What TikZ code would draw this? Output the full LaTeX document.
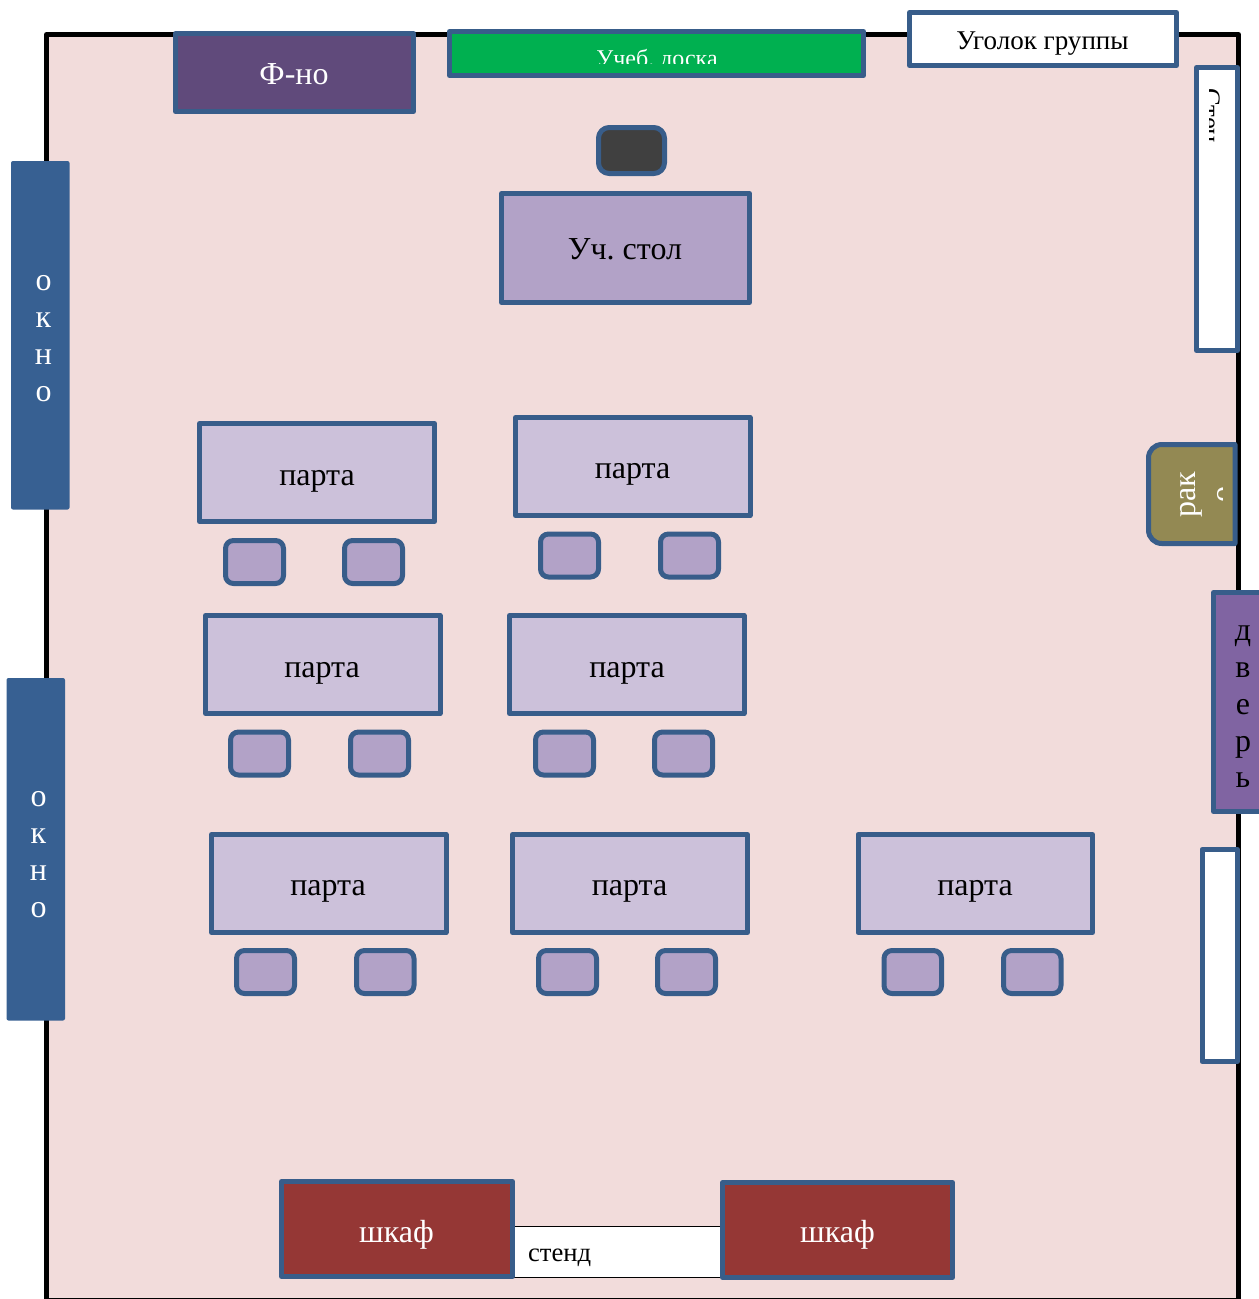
\documentclass[tikz,border=0pt]{standalone}
\usepackage{fontspec}
\setmainfont{Liberation Serif}
\frenchspacing
\definecolor{RoomFill}{HTML}{F2DCDB}
\definecolor{LineBlue}{HTML}{385D8A}
\definecolor{WindowFill}{HTML}{376092}
\definecolor{PianoFill}{HTML}{604A7B}
\definecolor{BoardFill}{HTML}{00B050}
\definecolor{StoolFill}{HTML}{404040}
\definecolor{TableFill}{HTML}{B2A2C7}
\definecolor{DeskFill}{HTML}{CCC1DA}
\definecolor{SinkFill}{HTML}{938953}
\definecolor{DoorFill}{HTML}{8064A2}
\definecolor{CupboardFill}{HTML}{953735}
\begin{document}
\begin{tikzpicture}[x=0.75pt, y=-0.75pt]
\useasboundingbox (0, 0) rectangle (1259, 1299);

\draw[black, line width=3.75pt, line join=round, fill=RoomFill] (46.5, 34.5) rectangle (1238.5, 1300);

\tikzset{BoxStyle/.style = {draw=LineBlue, line width=3.75pt, line join=round} }
\tikzset{ChairStyle/.style = {BoxStyle, fill=TableFill, rounded corners=6pt} }
\tikzset{DeskStyle/.style = {BoxStyle, fill=DeskFill} }
\tikzset{WindowStyle/.style = {fill=WindowFill, rounded corners=1.5pt} }
\tikzset{LabelStyle/.style = {inner sep=0pt, outer sep=0pt, font=\fontsize{24}{27.6}\selectfont} }
\tikzset{SmallLabelStyle/.style = {inner sep=0pt, outer sep=0pt, font=\fontsize{20}{24}\selectfont} }

\draw[BoxStyle, fill=PianoFill] (175.5, 33.5) rectangle (413.5, 111.5);
\node[LabelStyle, text=white, anchor=base] (Piano) at (294, 84) {Ф-но};

\draw[BoxStyle, fill=BoardFill] (449.5, 31.5) rectangle (863.5, 75.5);
\begin{scope}
\clip (452, 34) rectangle (861, 63);
\node[inner sep=0pt, text=white, font=\fontsize{18}{21}\selectfont, anchor=base] (Board) at (657, 66) {Учеб. доска};
\end{scope}

\draw[BoxStyle, fill=white] (909.5, 12.5) rectangle (1176.5, 65.5);
\node[inner sep=0pt, font=\fontsize{20.3}{24}\selectfont, anchor=base] (Corner) at (1042.5, 49) {Уголок группы};

\draw[BoxStyle, fill=white] (1196.5, 67.5) rectangle (1237.5, 350.5);
\begin{scope}
\clip (1209, 70) rectangle (1235, 348);
\node[SmallLabelStyle, rotate=-90, anchor=base west] (Stand1) at (1202, 88) {Стен};
\end{scope}

\draw[BoxStyle, fill=StoolFill, rounded corners=8pt] (598.5, 127.5) rectangle (664.5, 173.5);
\draw[BoxStyle, fill=TableFill] (501.5, 193.5) rectangle (749.5, 302.5);
\node[LabelStyle, anchor=base] (Table) at (625, 259) {Уч. стол};

\draw[DeskStyle] (199.5, 423.5) rectangle (434.5, 521.5);
\node[LabelStyle, anchor=base] (Desk1) at (317, 485) {парта};
\draw[DeskStyle] (515.5, 417.5) rectangle (750, 515.5);
\node[LabelStyle, anchor=base] (Desk2) at (632.5, 478.5) {парта};
\draw[DeskStyle] (205.5, 615.5) rectangle (440, 713.5);
\node[LabelStyle, anchor=base] (Desk3) at (322, 677) {парта};
\draw[DeskStyle] (509.5, 615.5) rectangle (744, 713.5);
\node[LabelStyle, anchor=base] (Desk4) at (627, 677) {парта};
\draw[DeskStyle] (211.5, 834.5) rectangle (446, 932.5);
\node[LabelStyle, anchor=base] (Desk5) at (328, 895) {парта};
\draw[DeskStyle] (512.5, 834.5) rectangle (747.5, 932.5);
\node[LabelStyle, anchor=base] (Desk6) at (629.5, 895) {парта};
\draw[DeskStyle] (858, 834.5) rectangle (1092.5, 932.5);
\node[LabelStyle, anchor=base] (Desk7) at (975, 895) {парта};

\draw[ChairStyle] (225.5, 540.5) rectangle (283.5, 583.5);
\draw[ChairStyle] (344.5, 540.5) rectangle (402.5, 583.5);
\draw[ChairStyle] (540.5, 534) rectangle (598.5, 577);
\draw[ChairStyle] (660.5, 534) rectangle (718.5, 577);
\draw[ChairStyle] (230.5, 732) rectangle (288.5, 775);
\draw[ChairStyle] (350.5, 732) rectangle (408.5, 775);
\draw[ChairStyle] (535.5, 732) rectangle (593.5, 775);
\draw[ChairStyle] (654.5, 732) rectangle (712.5, 775);
\draw[ChairStyle] (236.5, 950.5) rectangle (294.5, 993.5);
\draw[ChairStyle] (356.5, 950.5) rectangle (414, 993.5);
\draw[ChairStyle] (538.5, 950.5) rectangle (596.5, 993.5);
\draw[ChairStyle] (657.5, 950.5) rectangle (715.5, 993.5);
\draw[ChairStyle] (884, 950.5) rectangle (941.5, 993.5);
\draw[ChairStyle] (1003.5, 950.5) rectangle (1061, 993.5);

\fill[WindowStyle] (11, 161) rectangle (69.5, 509.5);
\node[LabelStyle, text=white, align=center, font=\fontsize{24}{27.75}\selectfont] (Window1) at (43.5, 339) {о\\к\\н\\о};
\fill[WindowStyle] (6.5, 678) rectangle (65, 1020.5);
\node[LabelStyle, text=white, align=center, font=\fontsize{24}{27.75}\selectfont] (Window2) at (38.5, 854.5) {о\\к\\н\\о};

\draw[BoxStyle, fill=SinkFill] (1235, 444.5) [rounded corners=10pt] -- (1148.5, 444.5) -- (1148.5, 543.5) [sharp corners] -- (1235, 543.5) -- cycle;
\node[LabelStyle, text=white, rotate=90, anchor=base] (Sink) at (1195, 494.5) {рак};
\begin{scope}
\clip (1200, 450) rectangle (1222, 540);
\node[LabelStyle, text=white, rotate=90, anchor=base] (Sink2) at (1232, 494) {о};
\end{scope}

\draw[BoxStyle, fill=DoorFill] (1213.5, 592.5) rectangle (1265, 811.5);
\node[LabelStyle, align=center] (Door) at (1243, 707) {д\\в\\е\\р\\ь};

\draw[BoxStyle, fill=white] (1202, 849.5) rectangle (1237.5, 1061.5);

\draw[black, fill=white, line width=0.9pt] (500, 1226.5) rectangle (735, 1277.5);
\node[SmallLabelStyle, anchor=base west] (Stand2) at (528, 1261) {стенд};

\draw[BoxStyle, fill=CupboardFill] (281.5, 1181.5) rectangle (512.5, 1276.5);
\node[LabelStyle, text=white, anchor=base] (Cupboard1) at (396.5, 1242) {шкаф};
\draw[BoxStyle, fill=CupboardFill] (722.5, 1182.5) rectangle (952.5, 1277.5);
\node[LabelStyle, text=white, anchor=base] (Cupboard2) at (837.5, 1242) {шкаф};

\end{tikzpicture}
\end{document}
